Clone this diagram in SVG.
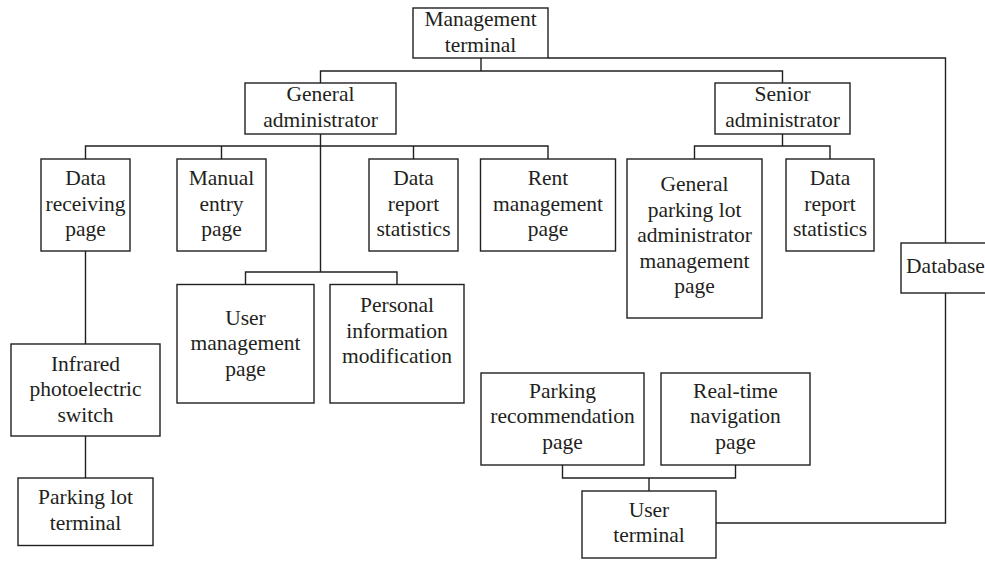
<svg xmlns="http://www.w3.org/2000/svg" width="985" height="561" viewBox="0 0 985 561">
  <style>
    .box { fill: #ffffff; stroke: #231f20; stroke-width: 1.4; }
    .wire { fill: none; stroke: #231f20; stroke-width: 1.4; }
    .lbl { font-family: 'Liberation Serif', 'DejaVu Serif', serif; font-size: 21.5px; fill: #231f20; text-anchor: middle; }
  </style>
  <rect width="985" height="561" fill="#ffffff"/>

  <!-- connectors -->
  <g id="connectors">
    <path class="wire" d="M481 58 V71 M320.5 83 V71 H782.5 V83"/>
    <path class="wire" d="M548 58 H945.5 V243"/>
    <path class="wire" d="M320.5 134 V272 M85.5 159 V146 H548 V159 M221.5 146 V159 M413.5 146 V159"/>
    <path class="wire" d="M245.5 284.5 V272 H397 V284.5"/>
    <path class="wire" d="M782.5 134 V146 M694.5 159 V146 H830 V159"/>
    <path class="wire" d="M85.5 251 V344 M85.5 436 V478"/>
    <path class="wire" d="M945.5 293 V523 H716"/>
    <path class="wire" d="M649 491 V478 M562.5 465 V478 H735.5 V465"/>
  </g>

  <g id="management-terminal">
    <rect class="box" x="413" y="8" width="135" height="50"/>
    <text class="lbl" font-family="Liberation Serif, serif" x="480.5" y="26">Management<tspan x="480.5" dy="25.5">terminal</tspan></text>
  </g>

  <g id="general-administrator">
    <rect class="box" x="245" y="83" width="151" height="51"/>
    <text class="lbl" x="320.5" y="101">General<tspan x="320.5" dy="25.5">administrator</tspan></text>
  </g>

  <g id="senior-administrator">
    <rect class="box" x="715" y="83" width="135" height="51"/>
    <text class="lbl" x="782.5" y="101">Senior<tspan x="782.5" dy="25.5">administrator</tspan></text>
  </g>

  <g id="data-receiving-page">
    <rect class="box" x="41" y="159" width="89" height="92"/>
    <text class="lbl" x="85.5" y="185">Data<tspan x="85.5" dy="25.5">receiving</tspan><tspan x="85.5" dy="25.5">page</tspan></text>
  </g>

  <g id="manual-entry-page">
    <rect class="box" x="177" y="159" width="89" height="92"/>
    <text class="lbl" x="221.5" y="185">Manual<tspan x="221.5" dy="25.5">entry</tspan><tspan x="221.5" dy="25.5">page</tspan></text>
  </g>

  <g id="data-report-statistics-general">
    <rect class="box" x="369" y="159" width="89" height="92"/>
    <text class="lbl" x="413.5" y="185">Data<tspan x="413.5" dy="25.5">report</tspan><tspan x="413.5" dy="25.5">statistics</tspan></text>
  </g>

  <g id="rent-management-page">
    <rect class="box" x="480.5" y="159" width="135" height="92"/>
    <text class="lbl" x="548" y="185">Rent<tspan x="548" dy="25.5">management</tspan><tspan x="548" dy="25.5">page</tspan></text>
  </g>

  <g id="parking-lot-administrator-page">
    <rect class="box" x="627" y="159" width="135" height="159"/>
    <text class="lbl" x="694.5" y="191">General<tspan x="694.5" dy="25.5">parking lot</tspan><tspan x="694.5" dy="25.5">administrator</tspan><tspan x="694.5" dy="25.5">management</tspan><tspan x="694.5" dy="25.5">page</tspan></text>
  </g>

  <g id="data-report-statistics-senior">
    <rect class="box" x="786" y="159" width="88" height="92"/>
    <text class="lbl" x="830" y="185">Data<tspan x="830" dy="25.5">report</tspan><tspan x="830" dy="25.5">statistics</tspan></text>
  </g>

  <g id="user-management-page">
    <rect class="box" x="177" y="284.5" width="137" height="118.5"/>
    <text class="lbl" x="245.5" y="324.5">User<tspan x="245.5" dy="25.5">management</tspan><tspan x="245.5" dy="25.5">page</tspan></text>
  </g>

  <g id="personal-information-modification">
    <rect class="box" x="330" y="284.5" width="134" height="118.5"/>
    <text class="lbl" x="397" y="312">Personal<tspan x="397" dy="25.5">information</tspan><tspan x="397" dy="25.5">modification</tspan></text>
  </g>

  <g id="infrared-photoelectric-switch">
    <rect class="box" x="11" y="344" width="149" height="92"/>
    <text class="lbl" x="85.5" y="370.5">Infrared<tspan x="85.5" dy="25.5">photoelectric</tspan><tspan x="85.5" dy="25.5">switch</tspan></text>
  </g>

  <g id="parking-lot-terminal">
    <rect class="box" x="18" y="478" width="135" height="67.5"/>
    <text class="lbl" x="85.5" y="504">Parking lot<tspan x="85.5" dy="25.5">terminal</tspan></text>
  </g>

  <g id="database">
    <rect class="box" x="901" y="243" width="90" height="50"/>
    <text class="lbl" x="945.5" y="272.5">Database</text>
  </g>

  <g id="parking-recommendation-page">
    <rect class="box" x="481" y="373" width="163" height="92"/>
    <text class="lbl" x="562.5" y="397.5">Parking<tspan x="562.5" dy="25.5">recommendation</tspan><tspan x="562.5" dy="25.5">page</tspan></text>
  </g>

  <g id="real-time-navigation-page">
    <rect class="box" x="661" y="373" width="149" height="92"/>
    <text class="lbl" x="735.5" y="397.5">Real-time<tspan x="735.5" dy="25.5">navigation</tspan><tspan x="735.5" dy="25.5">page</tspan></text>
  </g>

  <g id="user-terminal">
    <rect class="box" x="582" y="491" width="134" height="67"/>
    <text class="lbl" x="649" y="516.5">User<tspan x="649" dy="25.5">terminal</tspan></text>
  </g>
</svg>
